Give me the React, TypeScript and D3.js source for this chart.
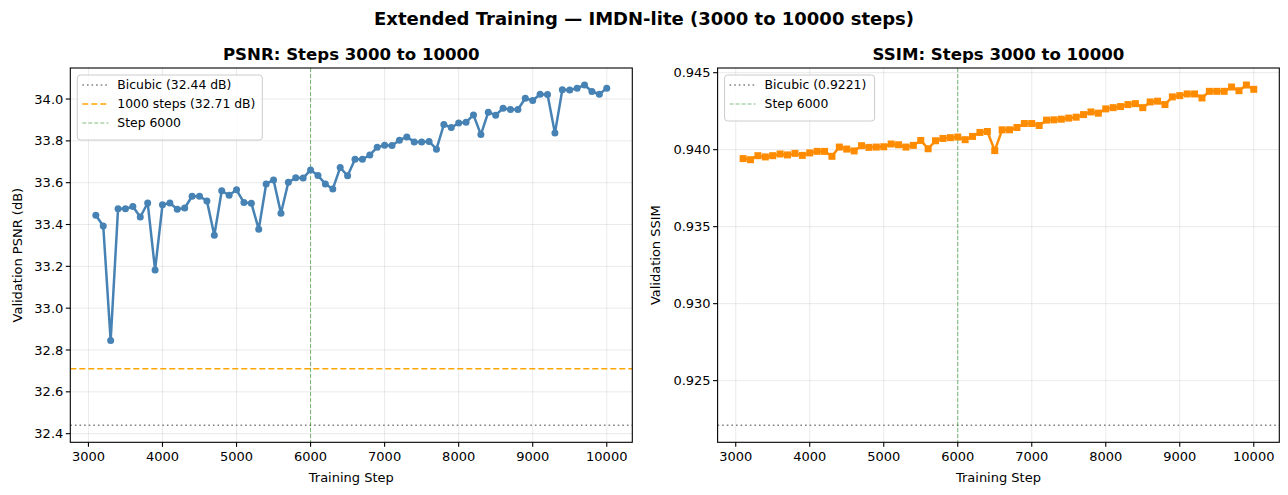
import React from 'react';
import * as d3 from 'd3';

const W = 1288;
const H = 495;
const FONT = '"DejaVu Sans", sans-serif';

const steps = [
  3100, 3200, 3300, 3400, 3500, 3600, 3700, 3800, 3900, 4000,
  4100, 4200, 4300, 4400, 4500, 4600, 4700, 4800, 4900, 5000,
  5100, 5200, 5300, 5400, 5500, 5600, 5700, 5800, 5900, 6000,
  6100, 6200, 6300, 6400, 6500, 6600, 6700, 6800, 6900, 7000,
  7100, 7200, 7300, 7400, 7500, 7600, 7700, 7800, 7900, 8000,
  8100, 8200, 8300, 8400, 8500, 8600, 8700, 8800, 8900, 9000,
  9100, 9200, 9300, 9400, 9500, 9600, 9700, 9800, 9900, 10000,
];

const psnrValues = [
  33.444, 33.393, 32.845, 33.475, 33.475, 33.486, 33.436, 33.503, 33.183, 33.494,
  33.503, 33.473, 33.479, 33.535, 33.535, 33.513, 33.349, 33.561, 33.540, 33.566,
  33.505, 33.502, 33.377, 33.594, 33.613, 33.454, 33.602, 33.623, 33.622, 33.661,
  33.634, 33.594, 33.570, 33.672, 33.633, 33.712, 33.712, 33.732, 33.770, 33.779,
  33.778, 33.803, 33.819, 33.795, 33.795, 33.797, 33.760, 33.878, 33.864, 33.885,
  33.889, 33.924, 33.830, 33.937, 33.923, 33.956, 33.950, 33.950, 34.004, 33.993,
  34.023, 34.022, 33.837, 34.044, 34.043, 34.052, 34.067, 34.036, 34.023, 34.052,
];

const ssimValues = [
  0.93942, 0.93935, 0.93961, 0.93953, 0.93961, 0.93972, 0.93966, 0.93976, 0.93963, 0.93979,
  0.93989, 0.93989, 0.93957, 0.94017, 0.94004, 0.93992, 0.94026, 0.94015, 0.94017, 0.94019,
  0.94037, 0.94032, 0.94017, 0.94028, 0.94060, 0.94006, 0.94058, 0.94073, 0.94078, 0.94082,
  0.94065, 0.94086, 0.94112, 0.94118, 0.93994, 0.94129, 0.94129, 0.94144, 0.94170, 0.94170,
  0.94157, 0.94192, 0.94194, 0.94198, 0.94205, 0.94211, 0.94228, 0.94245, 0.94237, 0.94265,
  0.94273, 0.94280, 0.94293, 0.94299, 0.94273, 0.94310, 0.94315, 0.94293, 0.94343, 0.94351,
  0.94362, 0.94362, 0.94336, 0.94379, 0.94379, 0.94379, 0.94407, 0.94383, 0.94420, 0.94392,
];

const xTicks = [3000, 4000, 5000, 6000, 7000, 8000, 9000, 10000];
const psnrTicks = [32.4, 32.6, 32.8, 33.0, 33.2, 33.4, 33.6, 33.8, 34.0];
const ssimTicks = [0.925, 0.93, 0.935, 0.94, 0.945];

const markerStep = 6000;
const psnrBicubic = 32.44;
const psnr1000 = 32.71;
const ssimBicubic = 0.9221;

// matplotlib-style 5% padding
const padded = (vals: number[]): [number, number] => {
  const [lo, hi] = d3.extent(vals) as [number, number];
  const m = (hi - lo) * 0.05;
  return [lo - m, hi + m];
};

interface RefLine {
  label: string;
  kind: 'h' | 'v';
  value: number;
  color: string;
  width: number;
  dash: string;
  opacity: number;
}

interface PanelProps {
  left: number;
  right: number;
  top: number;
  bottom: number;
  title: string;
  yLabel: string;
  yLabelOffset: number;
  values: number[];
  yTicks: number[];
  yFmt: (v: number) => string;
  color: string;
  marker: 'circle' | 'square';
  refs: RefLine[];
  legendWidth: number;
}

const Panel: React.FC<PanelProps> = ({
  left, right, top, bottom, title, yLabel, yLabelOffset, values, yTicks, yFmt, color, marker, refs, legendWidth,
}) => {
  const x = d3.scaleLinear()
    .domain(padded([...steps, markerStep]))
    .range([left, right]);
  const hVals = refs.filter(r => r.kind === 'h').map(r => r.value);
  const y = d3.scaleLinear()
    .domain(padded([...values, ...hVals]))
    .range([bottom, top]);

  const line = d3.line<number>()
    .x((_, i) => x(steps[i]))
    .y(d => y(d));

  const cx = (left + right) / 2;
  const cy = (top + bottom) / 2;
  const clipId = `clip-${Math.round(left)}`;

  const legX = left + 7;
  const legY = top + 7;
  const rowH = 19;
  const legH = refs.length * rowH + 8;

  return (
    <g>
      <defs>
        <clipPath id={clipId}>
          <rect x={left} y={top} width={right - left} height={bottom - top} />
        </clipPath>
      </defs>
      <rect x={left} y={top} width={right - left} height={bottom - top} fill="#fff" />
      {/* grid */}
      {xTicks.map(t => (
        <line key={`gx${t}`} x1={x(t)} x2={x(t)} y1={top} y2={bottom} stroke="#b0b0b0" strokeOpacity={0.3} strokeWidth={0.9} />
      ))}
      {yTicks.map(t => (
        <line key={`gy${t}`} x1={left} x2={right} y1={y(t)} y2={y(t)} stroke="#b0b0b0" strokeOpacity={0.3} strokeWidth={0.9} />
      ))}
      <g clipPath={`url(#${clipId})`}>
        {refs.map(r => r.kind === 'h' ? (
          <line key={r.label} x1={left} x2={right} y1={y(r.value)} y2={y(r.value)}
            stroke={r.color} strokeWidth={r.width} strokeDasharray={r.dash} strokeOpacity={r.opacity} />
        ) : (
          <line key={r.label} x1={x(r.value)} x2={x(r.value)} y1={top} y2={bottom}
            stroke={r.color} strokeWidth={r.width} strokeDasharray={r.dash} strokeOpacity={r.opacity} />
        ))}
        <path d={line(values) ?? ''} fill="none" stroke={color} strokeWidth={2.5} strokeLinejoin="round" />
        {values.map((v, i) => marker === 'circle' ? (
          <circle key={i} cx={x(steps[i])} cy={y(v)} r={3.5} fill={color} />
        ) : (
          <rect key={i} x={x(steps[i]) - 3.5} y={y(v) - 3.5} width={7} height={7} fill={color} />
        ))}
      </g>
      {/* spines */}
      <rect x={left} y={top} width={right - left} height={bottom - top} fill="none" stroke="#000" strokeWidth={1.1} />
      {/* x ticks */}
      {xTicks.map(t => (
        <g key={`xt${t}`}>
          <line x1={x(t)} x2={x(t)} y1={bottom} y2={bottom + 4.5} stroke="#000" strokeWidth={1.1} />
          <text x={x(t)} y={bottom + 19} textAnchor="middle" fontSize={13} fontFamily={FONT}>{t}</text>
        </g>
      ))}
      {yTicks.map(t => (
        <g key={`yt${t}`}>
          <line x1={left - 4.5} x2={left} y1={y(t)} y2={y(t)} stroke="#000" strokeWidth={1.1} />
          <text x={left - 7} y={y(t)} dy="0.35em" textAnchor="end" fontSize={13} fontFamily={FONT}>{yFmt(t)}</text>
        </g>
      ))}
      <text x={cx} y={bottom + 40} textAnchor="middle" fontSize={13} fontFamily={FONT}>Training Step</text>
      <text transform={`translate(${left - yLabelOffset},${cy}) rotate(-90)`} textAnchor="middle" dy="0.35em" fontSize={13} fontFamily={FONT}>{yLabel}</text>
      <text x={cx} y={top - 8.5} textAnchor="middle" fontSize={16.6} fontWeight="bold" fontFamily={FONT}>{title}</text>
      {/* legend */}
      <rect x={legX} y={legY} width={legendWidth} height={legH} rx={3} fill="#fff" fillOpacity={0.8} stroke="#cccccc" strokeWidth={1} />
      {refs.map((r, i) => {
        const ry = legY + 10 + i * rowH;
        return (
          <g key={`lg${r.label}`}>
            <line x1={legX + 5} x2={legX + 31} y1={ry} y2={ry} stroke={r.color} strokeWidth={r.width}
              strokeDasharray={r.dash} strokeOpacity={r.opacity} />
            <text x={legX + 40} y={ry} dy="0.35em" fontSize={12.4} fontFamily={FONT}>{r.label}</text>
          </g>
        );
      })}
    </g>
  );
};

const psnrRefs: RefLine[] = [
  { label: `Bicubic (${psnrBicubic.toFixed(2)} dB)`, kind: 'h', value: psnrBicubic, color: '#808080', width: 1.6, dash: '1.6,3', opacity: 1 },
  { label: `1000 steps (${psnr1000.toFixed(2)} dB)`, kind: 'h', value: psnr1000, color: '#ffa500', width: 1.6, dash: '6,3', opacity: 1 },
  { label: `Step ${markerStep}`, kind: 'v', value: markerStep, color: '#008000', width: 1, dash: '4,2', opacity: 0.5 },
];

const ssimRefs: RefLine[] = [
  { label: `Bicubic (${ssimBicubic.toFixed(4)})`, kind: 'h', value: ssimBicubic, color: '#808080', width: 1.6, dash: '1.6,3', opacity: 1 },
  { label: `Step ${markerStep}`, kind: 'v', value: markerStep, color: '#008000', width: 1, dash: '4,2', opacity: 0.5 },
];

const App: React.FC = () => (
  <div style={{ position: 'absolute', left: 0, top: 0 }}>
    <svg width={W} height={H} style={{ display: 'block', background: '#fff' }}>
      <text x={W / 2} y={25} textAnchor="middle" fontSize={18} fontWeight="bold" fontFamily={FONT}>
        Extended Training — IMDN-lite (3000 to 10000 steps)
      </text>
      <Panel left={70.3} right={632.3} top={68} bottom={442.3}
        title="PSNR: Steps 3000 to 10000" yLabel="Validation PSNR (dB)" yLabelOffset={53}
        values={psnrValues} yTicks={psnrTicks} yFmt={d3.format('.1f')}
        color="#4682b4" marker="circle" refs={psnrRefs} legendWidth={185} />
      <Panel left={717.6} right={1279.3} top={68} bottom={442.3}
        title="SSIM: Steps 3000 to 10000" yLabel="Validation SSIM" yLabelOffset={62}
        values={ssimValues} yTicks={ssimTicks} yFmt={d3.format('.3f')}
        color="#ff8c00" marker="square" refs={ssimRefs} legendWidth={150} />
    </svg>
  </div>
);

export default App;
